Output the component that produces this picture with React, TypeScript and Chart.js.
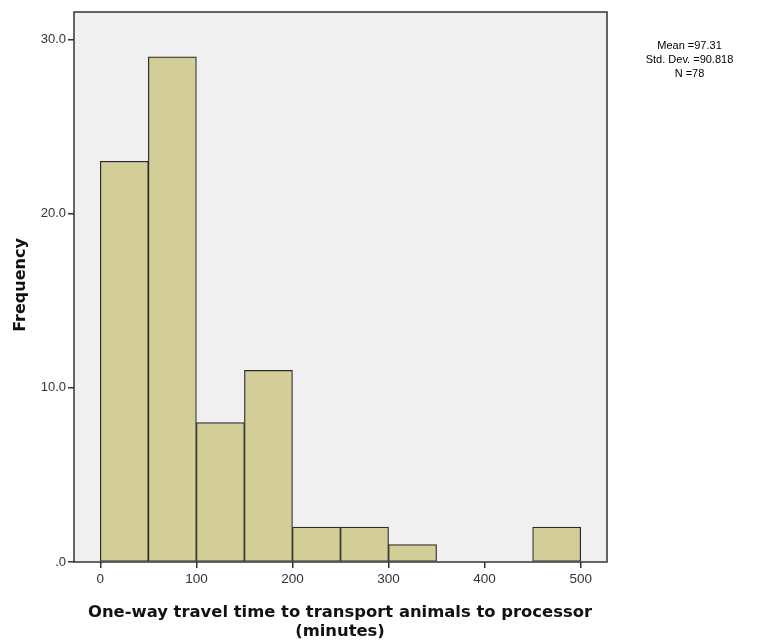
import React, { useEffect, useRef } from "react";
import { Chart, registerables } from "chart.js";

Chart.register(...registerables);

const binCenters = [25, 75, 125, 175, 225, 275, 325, 375, 425, 475];
const frequencies = [23, 29, 8, 11, 2, 2, 1, 0, 0, 2];
const xTickValues = [0, 100, 200, 300, 400, 500];
const yTickValues = [0, 10, 20, 30];
const statsLines = ["Mean =97.31", "Std. Dev. =90.818", "N =78"];
const xTitleLines = ["One-way travel time to transport animals to processor", "(minutes)"];
const yTitle = "Frequency";

const W = 761;
const H = 644;
const AREA = { left: 74, top: 12, right: 607, bottom: 562 };

export default function App() {
  const ref = useRef<HTMLCanvasElement | null>(null);

  useEffect(() => {
    document.body.style.margin = "0";
    const canvas = ref.current!;
    const decor = {
      id: "decor",
      beforeDraw(chart: any) {
        const { ctx, chartArea: a } = chart;
        ctx.save();
        ctx.fillStyle = "#ffffff";
        ctx.fillRect(0, 0, W, H);
        ctx.fillStyle = "#f0f0f0";
        ctx.fillRect(a.left, a.top, a.right - a.left, a.bottom - a.top);
        ctx.restore();
      },
      afterDraw(chart: any) {
        const { ctx, chartArea: a } = chart;
        ctx.save();
        ctx.strokeStyle = "#333333";
        ctx.lineWidth = 1.5;
        ctx.strokeRect(a.left, a.top, a.right - a.left, a.bottom - a.top);

        ctx.fillStyle = "#000000";
        ctx.font = "11px 'Liberation Sans', Arial, sans-serif";
        ctx.textAlign = "center";
        ctx.textBaseline = "alphabetic";
        statsLines.forEach((s, i) => ctx.fillText(s, 689.5, 49 + i * 14));

        ctx.font = "bold 16.4px 'DejaVu Sans', sans-serif";
        ctx.fillStyle = "#111111";
        ctx.fillText(xTitleLines[0], 340, 617);
        ctx.fillText(xTitleLines[1], 340, 636);

        ctx.translate(25, 285);
        ctx.rotate(-Math.PI / 2);
        ctx.font = "bold 16px 'DejaVu Sans', sans-serif";
        ctx.fillText(yTitle, 0, 0);
        ctx.restore();
      },
    };

    const chart = new Chart(canvas, {
      type: "bar",
      data: {
        datasets: [
          {
            data: binCenters.map((x, i) => ({ x, y: frequencies[i] })),
            backgroundColor: "#d3ce98",
            borderColor: "#2b2b2b",
            borderWidth: 1.2,
            borderSkipped: false,
            barPercentage: 1,
            categoryPercentage: 1,
          },
        ],
      },
      options: {
        responsive: false,
        animation: false,
        events: [],
        layout: { padding: { left: 0, top: AREA.top, right: W - AREA.right, bottom: 0 } },
        plugins: { legend: { display: false }, tooltip: { enabled: false } },
        scales: {
          x: {
            type: "linear",
            min: -27.4,
            max: 527.4,
            offset: false,
            afterBuildTicks: (s: any) => {
              s.ticks = xTickValues.map((v) => ({ value: v }));
            },
            afterFit: (s: any) => {
              s.height = H - AREA.bottom;
            },
            border: { display: false },
            grid: { offset: false, drawOnChartArea: false, drawTicks: true, tickLength: 6, color: "#333333", lineWidth: 1.5 },
            ticks: {
              padding: 3,
              color: "#333333",
              font: { family: "'Liberation Sans', Arial, sans-serif", size: 13.5 },
              maxRotation: 0,
              autoSkip: false,
            },
          },
          y: {
            type: "linear",
            min: 0,
            max: 31.57,
            afterBuildTicks: (s: any) => {
              s.ticks = yTickValues.map((v) => ({ value: v }));
            },
            afterFit: (s: any) => {
              s.width = AREA.left;
            },
            border: { display: false },
            grid: { offset: false, drawOnChartArea: false, drawTicks: true, tickLength: 6, color: "#333333", lineWidth: 1.5 },
            ticks: {
              padding: 2,
              color: "#333333",
              font: { family: "'Liberation Sans', Arial, sans-serif", size: 13 },
              callback: (v: any) => (Number(v) === 0 ? ".0" : Number(v).toFixed(1)),
            },
          },
        },
      },
      plugins: [decor],
    });
    return () => chart.destroy();
  }, []);

  return (
    <div style={{ position: "absolute", left: 0, top: 0, width: W, height: H }}>
      <canvas ref={ref} width={W} height={H} style={{ display: "block" }} />
    </div>
  );
}
